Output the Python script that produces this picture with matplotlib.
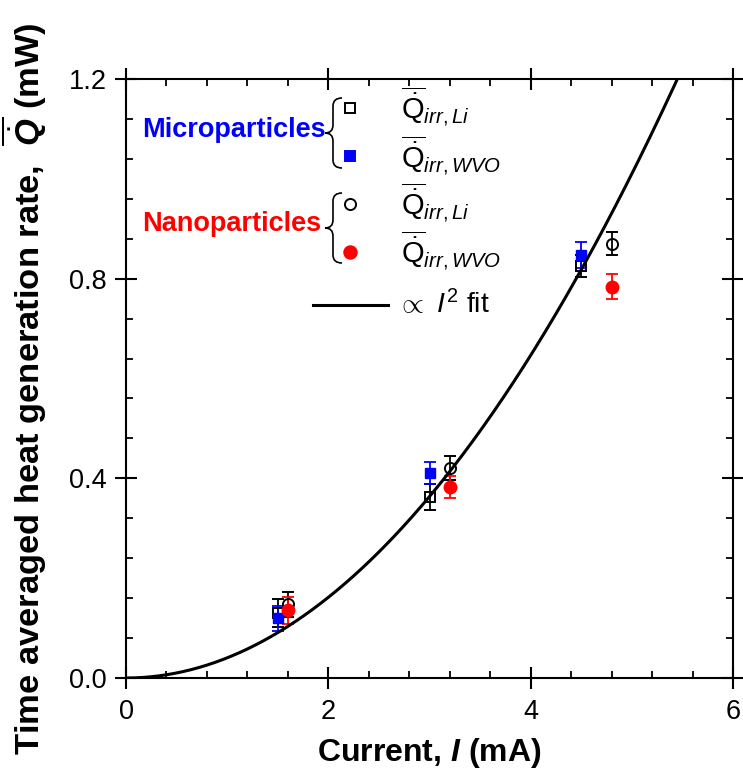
import numpy as np
import matplotlib
matplotlib.use("Agg")
import matplotlib.pyplot as plt
from matplotlib.path import Path
from matplotlib.patches import PathPatch
from matplotlib.ticker import MultipleLocator

plt.rcParams['font.family'] = ['Liberation Sans', 'DejaVu Sans']
plt.rcParams['mathtext.fontset'] = 'custom'
plt.rcParams['mathtext.rm'] = 'Liberation Sans'
plt.rcParams['mathtext.it'] = 'Liberation Sans:italic'
plt.rcParams['mathtext.bf'] = 'Liberation Sans:bold'
plt.rcParams['mathtext.bfit'] = 'Liberation Sans:italic:bold'

# -------------------------------
# data
# -------------------------------
micro_x = [1.5, 3.0, 4.5]
micro_li_y = [0.130, 0.363, 0.825]
micro_li_err = [0.028, 0.026, 0.022]
micro_wvo_y = [0.120, 0.410, 0.848]
micro_wvo_err = [0.025, 0.022, 0.026]

nano_x = [1.6, 3.2, 4.8]
nano_li_y = [0.148, 0.420, 0.870]
nano_li_err = [0.025, 0.024, 0.023]
nano_wvo_y = [0.136, 0.383, 0.784]
nano_wvo_err = [0.027, 0.022, 0.025]

fit_k = 0.0404  # Q = k * I^2

W, H = 743, 780
fig = plt.figure(figsize=(W / 100, H / 100), dpi=100)
ax = fig.add_axes([126 / W, 1 - 678 / H, (733 - 126) / W, (678 - 79) / H])


def px(x, y):
    # image pixel -> figure fraction
    return x / W, 1 - y / H


# -------------------------------
# data points
# -------------------------------
eb = dict(capsize=4, elinewidth=1.3, capthick=1.3, linestyle='none')

ax.errorbar(micro_x, micro_li_y, yerr=micro_li_err, fmt='s', ms=7,
            mfc='none', mec='k', mew=1.4, ecolor='k', **eb)
ax.errorbar(micro_x, micro_wvo_y, yerr=micro_wvo_err, fmt='s', ms=7,
            mfc='#0000ff', mec='#0000ff', ecolor='#0000ff', **eb)
ax.errorbar(nano_x, nano_li_y, yerr=nano_li_err, fmt='o', ms=8,
            mfc='none', mec='k', mew=1.4, ecolor='k', **eb)
ax.errorbar(nano_x, nano_wvo_y, yerr=nano_wvo_err, fmt='o', ms=9,
            mfc='#ff0000', mec='#ff0000', ecolor='#ff0000', **eb)

# fit curve
xf = np.linspace(0, 6, 300)
ax.plot(xf, fit_k * xf ** 2, color='k', lw=2.2, zorder=5)

# -------------------------------
# axes styling
# -------------------------------
ax.set_xlim(0, 6)
ax.set_ylim(0, 1.2)
ax.xaxis.set_major_locator(MultipleLocator(2))
ax.xaxis.set_minor_locator(MultipleLocator(0.4))
ax.yaxis.set_major_locator(MultipleLocator(0.4))
ax.yaxis.set_minor_locator(MultipleLocator(0.08))
ax.yaxis.set_major_formatter(matplotlib.ticker.FormatStrFormatter('%.1f'))

for s in ax.spines.values():
    s.set_linewidth(1.5)

ax.tick_params(which='major', direction='inout', length=16, width=1.5,
               top=True, right=True, labelsize=19.5)
ax.tick_params(which='minor', direction='in', length=5, width=1.3,
               top=True, right=True)
ax.tick_params(axis='y', which='major', pad=6)
ax.tick_params(axis='x', which='major', pad=7)

ax.set_xlabel(r'Current, $\mathbfit{I}$ (mA)', fontsize=23,
              fontweight='bold', labelpad=8)
ax.set_ylabel(r'Time averaged heat generation rate,  $\overline{\dot{\mathbfit{Q}}}$ (mW)',
              fontsize=24.8, fontweight='bold')
ax.yaxis.set_label_coords(-0.127, 0.483)

# -------------------------------
# manual legend
# -------------------------------
def brace(x_tip, x_mid, x_end, y_top, y_bot):
    y_c = (y_top + y_bot) / 2
    r = 8
    pts = [(x_end, y_top), (x_mid, y_top), (x_mid, y_top + r),
           (x_mid, y_c - r), (x_mid, y_c), (x_tip, y_c),
           (x_mid, y_c), (x_mid, y_c + r),
           (x_mid, y_bot - r), (x_mid, y_bot), (x_end, y_bot)]
    codes = [Path.MOVETO, Path.CURVE3, Path.CURVE3,
             Path.LINETO, Path.CURVE3, Path.CURVE3,
             Path.CURVE3, Path.CURVE3,
             Path.LINETO, Path.CURVE3, Path.CURVE3]
    verts = [px(a, b) for a, b in pts]
    fig.add_artist(PathPatch(Path(verts, codes), fc='none', ec='k', lw=1.2,
                             transform=fig.transFigure))


brace(325, 333, 342, 98, 168)
brace(325, 333, 342, 193, 263)

fig.text(*px(142, 130), 'Microparticles', color='#0000ff', fontsize=19.5,
         fontweight='bold', ha='left', va='center')
fig.text(*px(142, 224), 'Nanoparticles', color='#ff0000', fontsize=19.5,
         fontweight='bold', ha='left', va='center')

leg_marks = [(108, 's', 'none', 'k', 7), (156, 's', '#0000ff', '#0000ff', 7),
             (204, 'o', 'none', 'k', 8), (252, 'o', '#ff0000', '#ff0000', 9)]
for yy, m, fc, ec, ms in leg_marks:
    ax.plot(*px(350, yy), marker=m, ms=ms, mfc=fc, mec=ec, mew=1.4,
            transform=fig.transFigure, clip_on=False)

q_li = r'$\overline{\dot{\mathrm{Q}}}_{irr,Li}$'
q_wvo = r'$\overline{\dot{\mathrm{Q}}}_{irr,WVO}$'
for yy, lab in [(119, q_li), (168, q_wvo), (215, q_li), (263, q_wvo)]:
    fig.text(*px(401, yy), lab, fontsize=21, ha='left', va='baseline')

ax.plot([313 / W, 388 / W], [1 - 305 / H, 1 - 305 / H], color='k', lw=2.2,
        transform=fig.transFigure, clip_on=False)
fig.text(*px(397, 313), r'$\propto$ $\mathit{I}^2$ fit', fontsize=20.5,
         ha='left', va='baseline')

fig.savefig('out.png', dpi=100)
